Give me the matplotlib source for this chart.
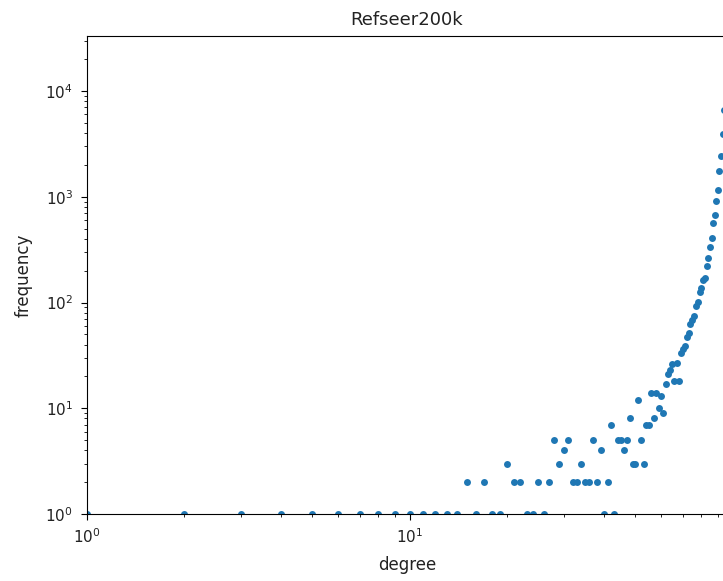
import matplotlib
matplotlib.use("Agg")
import matplotlib.pyplot as plt

# degree -> frequency
degree = [1, 2, 3, 4, 5, 6, 7, 8, 9, 10,
          11, 12, 13, 14, 15, 16, 17, 18, 19, 20,
          21, 22, 23, 24, 25, 26, 27, 28, 29, 30,
          31, 32, 33, 34, 35, 36, 37, 38, 39, 40,
          41, 42, 43, 44, 45, 46, 47, 48, 49, 50,
          51, 52, 53, 54, 55, 56, 57, 58, 59, 60,
          61, 62, 63, 64, 65, 66, 67, 68, 69, 70,
          71, 72, 73, 74, 75, 76, 77, 78, 79, 80,
          81, 82, 83, 84, 85, 86, 87, 88, 89, 90,
          91, 92, 93, 94, 95]
frequency = [1, 1, 1, 1, 1, 1, 1, 1, 1, 1,
             1, 1, 1, 1, 2, 1, 2, 1, 1, 3,
             2, 2, 1, 1, 2, 1, 2, 5, 3, 4,
             5, 2, 2, 3, 2, 2, 5, 2, 4, 1,
             2, 7, 1, 5, 5, 4, 5, 8, 3, 3,
             12, 5, 3, 7, 7, 14, 8, 14, 10, 13,
             9, 17, 21, 23, 26, 18, 27, 18, 33, 36,
             39, 47, 51, 63, 68, 74, 93, 101, 125, 136,
             165, 169, 220, 265, 338, 405, 562, 673, 915, 1170,
             1750, 2430, 3900, 6560, 13200]

title = "Refseer200k"
xlabel = "degree"
ylabel = "frequency"

W, H = 723, 581
fig = plt.figure(figsize=(W / 100, H / 100), dpi=100)
left_px, right_px, top_px, bottom_px = 86.7, 727.0, 36.0, 514.0
ax = fig.add_axes([left_px / W, (H - bottom_px) / H,
                   (right_px - left_px) / W, (bottom_px - top_px) / H])

ax.plot(degree, frequency, linestyle="none", marker="o", markersize=5.0,
        markeredgewidth=0, color="#1f77b4")
ax.set_xscale("log")
ax.set_yscale("log")
ax.set_xlim(1, 10 ** ((right_px - left_px) / 323.0))
ax.set_ylim(1, 10 ** ((bottom_px - top_px) / 105.75))

ax.set_title(title, fontsize=13, pad=8, color="#222222")
ax.set_xlabel(xlabel, fontsize=12, labelpad=7, color="#222222")
ax.set_ylabel(ylabel, fontsize=12, labelpad=9, color="#222222")
ax.tick_params(axis="both", which="major", labelsize=11, length=4.5,
               pad=5.3, labelcolor="#222222")
ax.tick_params(axis="both", which="minor", length=2.5)

fig.savefig("out.png", dpi=100)
